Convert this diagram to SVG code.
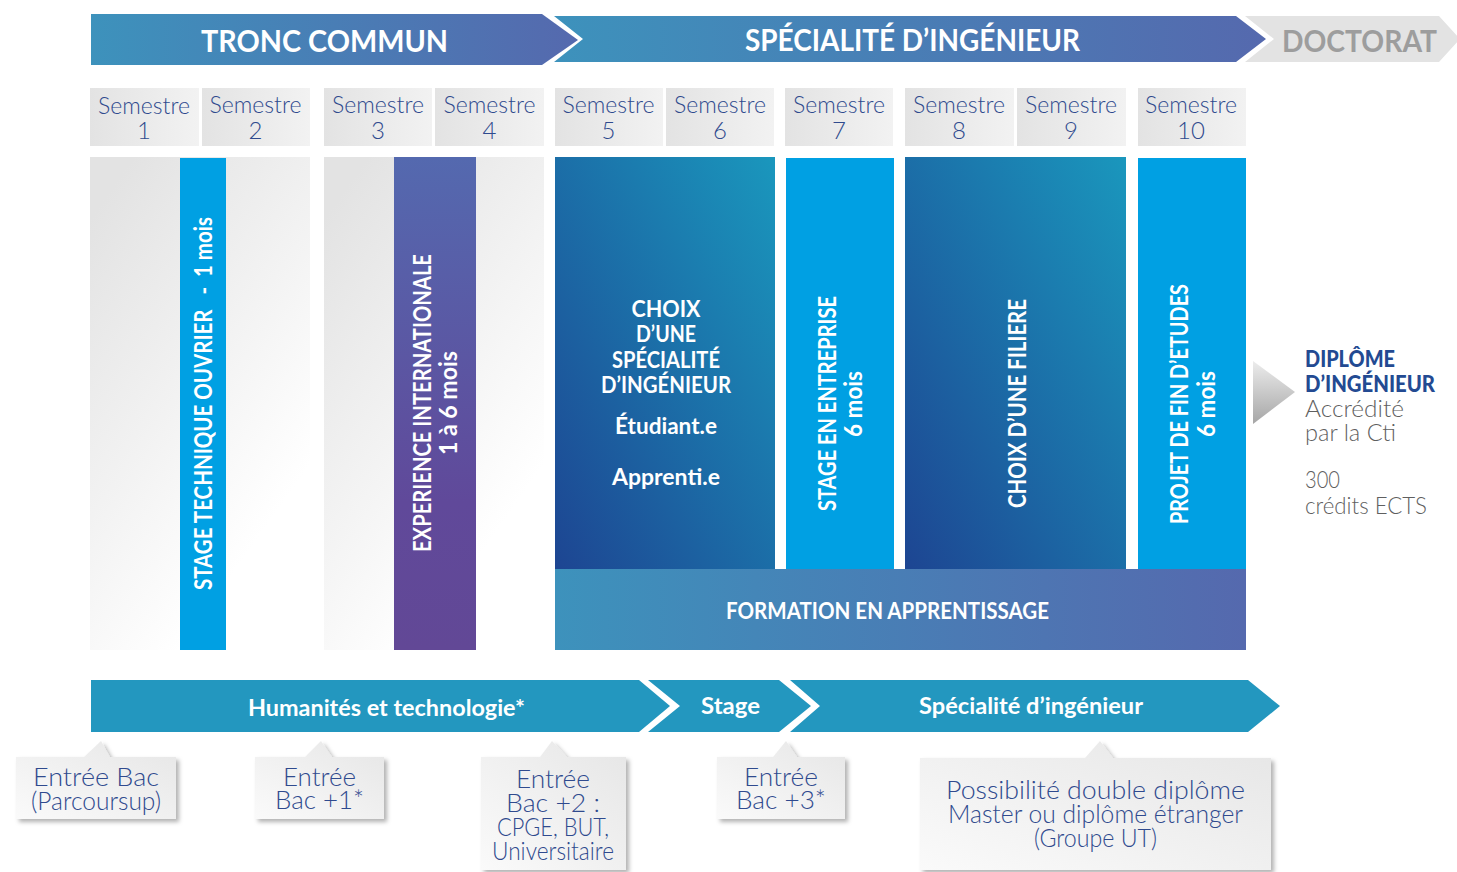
<svg xmlns="http://www.w3.org/2000/svg" width="1457" height="872" viewBox="0 0 1457 872">
<style>
text{font-family:Lato,"Open Sans","Liberation Sans",sans-serif}
.w{fill:#fff;font-weight:700}
.h{font-size:31px}
.sem{fill:#2f4a8e;font-size:24px;text-anchor:middle;font-weight:300}
.m{text-anchor:middle}
.b{fill:#2f4a8e;font-size:25px;font-weight:300}
.v{font-size:24px}
.g{fill:#5f5f5f;font-size:23px;font-weight:300}
.cell{fill:url(#cellG)}
.box{fill:url(#boxG);filter:url(#sh)}
.teal{fill:#2397bf}
</style>
<defs>
<linearGradient id="headG" x1="0" x2="1" y1="0" y2="0"><stop offset="0" stop-color="#3d92bc"/><stop offset="1" stop-color="#5569ae"/></linearGradient>
<linearGradient id="cellG" x1="0" x2="1" y1="0" y2="0"><stop offset="0" stop-color="#e3e3e3"/><stop offset="1" stop-color="#f2f2f2"/></linearGradient>
<linearGradient id="colG" gradientUnits="objectBoundingBox" x1="0.2" y1="0" x2="0.8" y2="0.95"><stop offset="0" stop-color="#e3e3e3"/><stop offset="0.85" stop-color="#ffffff"/></linearGradient>
<linearGradient id="purG" x1="0" x2="0" y1="0" y2="1"><stop offset="0" stop-color="#5469af"/><stop offset="0.7" stop-color="#60499a"/><stop offset="1" stop-color="#624896"/></linearGradient>
<linearGradient id="bigG" x1="1" x2="0" y1="0" y2="1"><stop offset="0" stop-color="#1a97bd"/><stop offset="1" stop-color="#1d4592"/></linearGradient>
<linearGradient id="triG" x1="0" x2="0" y1="0" y2="1"><stop offset="0" stop-color="#ececec"/><stop offset="1" stop-color="#a6a6a6"/></linearGradient>
<linearGradient id="boxG" x1="1" x2="0" y1="0" y2="1"><stop offset="0" stop-color="#e6e6e6"/><stop offset="1" stop-color="#fafafa"/></linearGradient>
<filter id="sh" x="-10%" y="-20%" width="125%" height="140%"><feDropShadow dx="3" dy="3" stdDeviation="2" flood-color="#000" flood-opacity=".3"/></filter>
</defs>

<g id="header-tronc"><polygon points="91,14 542,14 578,40 542,65 91,65" fill="url(#headG)"/><text class="w h" x="201" y="52" textLength="247" lengthAdjust="spacingAndGlyphs">TRONC COMMUN</text></g>
<g id="header-doctorat"><polygon points="1245,16 1439,16 1460,39 1439,62 1245,62 1274,39" fill="#e3e3e3"/><text x="1282" y="52" font-size="31" font-weight="700" fill="#9d9d9d" textLength="155" lengthAdjust="spacingAndGlyphs">DOCTORAT</text></g>
<g id="header-specialite"><polygon points="554,16 1236,16 1266,39 1236,62 554,62 583,39" fill="url(#headG)"/><text class="w h" x="745" y="51" textLength="335" lengthAdjust="spacingAndGlyphs">SPÉCIALITÉ D’INGÉNIEUR</text></g>

<g id="semestres">
<rect class="cell" x="90" y="88" width="109" height="58"/><rect class="cell" x="202" y="88" width="108" height="58"/>
<rect class="cell" x="324" y="88" width="108" height="58"/><rect class="cell" x="435" y="88" width="109" height="58"/>
<rect class="cell" x="555" y="88" width="108" height="58"/><rect class="cell" x="666" y="88" width="108" height="58"/>
<rect class="cell" x="785" y="88" width="108" height="58"/>
<rect class="cell" x="905" y="88" width="109" height="58"/><rect class="cell" x="1017" y="88" width="109" height="58"/>
<rect class="cell" x="1138" y="88" width="108" height="58"/>
<text class="sem" x="144" y="114" textLength="92" lengthAdjust="spacingAndGlyphs">Semestre</text><text class="sem" x="144" y="139">1</text>
<text class="sem" x="255.500" y="113" textLength="92" lengthAdjust="spacingAndGlyphs">Semestre</text><text class="sem" x="255.500" y="139">2</text>
<text class="sem" x="378" y="113" textLength="92" lengthAdjust="spacingAndGlyphs">Semestre</text><text class="sem" x="378" y="139">3</text>
<text class="sem" x="489.500" y="113" textLength="92" lengthAdjust="spacingAndGlyphs">Semestre</text><text class="sem" x="489.500" y="139">4</text>
<text class="sem" x="608.500" y="113" textLength="92" lengthAdjust="spacingAndGlyphs">Semestre</text><text class="sem" x="608.500" y="139">5</text>
<text class="sem" x="720" y="113" textLength="92" lengthAdjust="spacingAndGlyphs">Semestre</text><text class="sem" x="720" y="139">6</text>
<text class="sem" x="839" y="113" textLength="92" lengthAdjust="spacingAndGlyphs">Semestre</text><text class="sem" x="839" y="139">7</text>
<text class="sem" x="959" y="113" textLength="92" lengthAdjust="spacingAndGlyphs">Semestre</text><text class="sem" x="959" y="139">8</text>
<text class="sem" x="1071" y="113" textLength="92" lengthAdjust="spacingAndGlyphs">Semestre</text><text class="sem" x="1071" y="139">9</text>
<text class="sem" x="1191" y="113" textLength="92" lengthAdjust="spacingAndGlyphs">Semestre</text><text class="sem" x="1191" y="139">10</text>
</g>

<g id="col-tronc-1"><rect x="90" y="157" width="220" height="493" fill="url(#colG)"/></g>
<g id="col-tronc-2"><rect x="324" y="157" width="220" height="493" fill="url(#colG)"/></g>
<g id="stage-technique"><rect x="180" y="158" width="46" height="492" fill="#00a0e3"/>
<text class="w v" transform="translate(212 590) rotate(-90)" textLength="373" lengthAdjust="spacingAndGlyphs" xml:space="preserve">STAGE TECHNIQUE OUVRIER   -  1 mois</text></g>
<g id="experience"><rect x="394" y="157" width="82" height="493" fill="url(#purG)"/>
<text class="w v" transform="translate(431 552) rotate(-90)" textLength="298" lengthAdjust="spacingAndGlyphs">EXPERIENCE INTERNATIONALE</text>
<text class="w v" transform="translate(457 455) rotate(-90)" textLength="104" lengthAdjust="spacingAndGlyphs">1 à 6 mois</text></g>
<g id="choix-specialite"><rect x="555" y="157" width="220" height="412" fill="url(#bigG)"/>
<g class="w m" font-size="23">
<text x="666" y="317" textLength="69" lengthAdjust="spacingAndGlyphs">CHOIX</text>
<text x="666" y="342" textLength="60" lengthAdjust="spacingAndGlyphs">D’UNE</text>
<text x="666" y="368" textLength="108" lengthAdjust="spacingAndGlyphs">SPÉCIALITÉ</text>
<text x="666" y="393" textLength="130" lengthAdjust="spacingAndGlyphs">D’INGÉNIEUR</text>
<text x="666" y="434" textLength="102" lengthAdjust="spacingAndGlyphs">Étudiant.e</text>
<text x="666" y="485" textLength="108" lengthAdjust="spacingAndGlyphs">Apprenti.e</text>
</g></g>
<g id="stage-entreprise"><rect x="786" y="158" width="108" height="411" fill="#00a0e3"/>
<text class="w v" transform="translate(836 511) rotate(-90)" textLength="215" lengthAdjust="spacingAndGlyphs">STAGE EN ENTREPRISE</text>
<text class="w v" transform="translate(862 437) rotate(-90)" textLength="66" lengthAdjust="spacingAndGlyphs">6 mois</text></g>
<g id="choix-filiere"><rect x="905" y="157" width="221" height="412" fill="url(#bigG)"/>
<text class="w v" transform="translate(1026 508) rotate(-90)" textLength="209" lengthAdjust="spacingAndGlyphs">CHOIX D’UNE FILIERE</text></g>
<g id="projet"><rect x="1138" y="158" width="108" height="411" fill="#00a0e3"/>
<text class="w v" transform="translate(1188 524) rotate(-90)" textLength="240" lengthAdjust="spacingAndGlyphs">PROJET DE FIN D’ETUDES</text>
<text class="w v" transform="translate(1215 437) rotate(-90)" textLength="66" lengthAdjust="spacingAndGlyphs">6 mois</text></g>
<g id="apprentissage"><rect x="555" y="569" width="691" height="81" fill="url(#headG)"/>
<text class="w" font-size="23" x="726" y="619" textLength="323" lengthAdjust="spacingAndGlyphs">FORMATION EN APPRENTISSAGE</text></g>

<g id="diplome"><polygon points="1253,361 1295,392 1253,424" fill="url(#triG)"/>
<text x="1305" y="367" font-size="23" font-weight="900" fill="#234a92" textLength="90" lengthAdjust="spacingAndGlyphs">DIPLÔME</text>
<text x="1305" y="392" font-size="23" font-weight="900" fill="#234a92" textLength="130" lengthAdjust="spacingAndGlyphs">D’INGÉNIEUR</text>
<text class="g" x="1305" y="417" textLength="99" lengthAdjust="spacingAndGlyphs">Accrédité</text>
<text class="g" x="1305" y="441" textLength="91" lengthAdjust="spacingAndGlyphs">par la Cti</text>
<text class="g" x="1305" y="488" textLength="35" lengthAdjust="spacingAndGlyphs">300</text>
<text class="g" x="1305" y="514" textLength="122" lengthAdjust="spacingAndGlyphs">crédits ECTS</text></g>

<g id="band-humanites"><polygon class="teal" points="91,680 639,680 670,706 639,732 91,732"/><text class="w" font-size="22" x="248" y="716" textLength="277" lengthAdjust="spacingAndGlyphs">Humanités et technologie*</text></g>
<g id="band-stage"><polygon class="teal" points="648,680 779,680 811,706 779,732 648,732 680,706"/><text class="w" font-size="22" x="701" y="714" textLength="59" lengthAdjust="spacingAndGlyphs">Stage</text></g>
<g id="band-specialite"><polygon class="teal" points="790,680 1248,680 1280,706 1248,732 790,732 820,706"/><text class="w" font-size="22" x="919" y="714" textLength="224" lengthAdjust="spacingAndGlyphs">Spécialité d’ingénieur</text></g>

<g id="entree-bac"><polygon class="box" points="16,757 84,757 101,741 110,757 176,757 176,819 16,819"/>
<text class="b" x="33" y="786" textLength="126" lengthAdjust="spacingAndGlyphs">Entrée Bac</text>
<text class="b" x="31" y="810" textLength="130" lengthAdjust="spacingAndGlyphs">(Parcoursup)</text></g>
<g id="entree-bac1"><polygon class="box" points="255,757 305,757 321,741 332,757 384,757 384,819 255,819"/>
<text class="b" x="283" y="786" textLength="73" lengthAdjust="spacingAndGlyphs">Entrée</text>
<text class="b" x="275" y="809" textLength="89" lengthAdjust="spacingAndGlyphs">Bac +1*</text></g>
<g id="entree-bac2"><polygon class="box" points="481,757 540,757 552,741 567,757 626,757 626,870 481,870"/>
<text class="b" x="516" y="788" textLength="74" lengthAdjust="spacingAndGlyphs">Entrée</text>
<text class="b" x="506" y="812" textLength="94" lengthAdjust="spacingAndGlyphs">Bac +2 :</text>
<text class="b" x="497" y="836" textLength="112" lengthAdjust="spacingAndGlyphs">CPGE, BUT,</text>
<text class="b" x="492" y="860" textLength="122" lengthAdjust="spacingAndGlyphs">Universitaire</text></g>
<g id="entree-bac3"><polygon class="box" points="717,757 773,757 786,741 797,757 845,757 845,819 717,819"/>
<text class="b" x="744" y="786" textLength="74" lengthAdjust="spacingAndGlyphs">Entrée</text>
<text class="b" x="736" y="809" textLength="90" lengthAdjust="spacingAndGlyphs">Bac +3*</text></g>
<g id="double-diplome"><polygon class="box" points="920,758 1085,758 1100,741 1113,758 1271,758 1271,870 920,870"/>
<text class="b" x="946" y="799" textLength="299" lengthAdjust="spacingAndGlyphs">Possibilité double diplôme</text>
<text class="b" x="948" y="823" textLength="295" lengthAdjust="spacingAndGlyphs">Master ou diplôme étranger</text>
<text class="b" x="1034" y="847" textLength="123" lengthAdjust="spacingAndGlyphs">(Groupe UT)</text></g>
</svg>
